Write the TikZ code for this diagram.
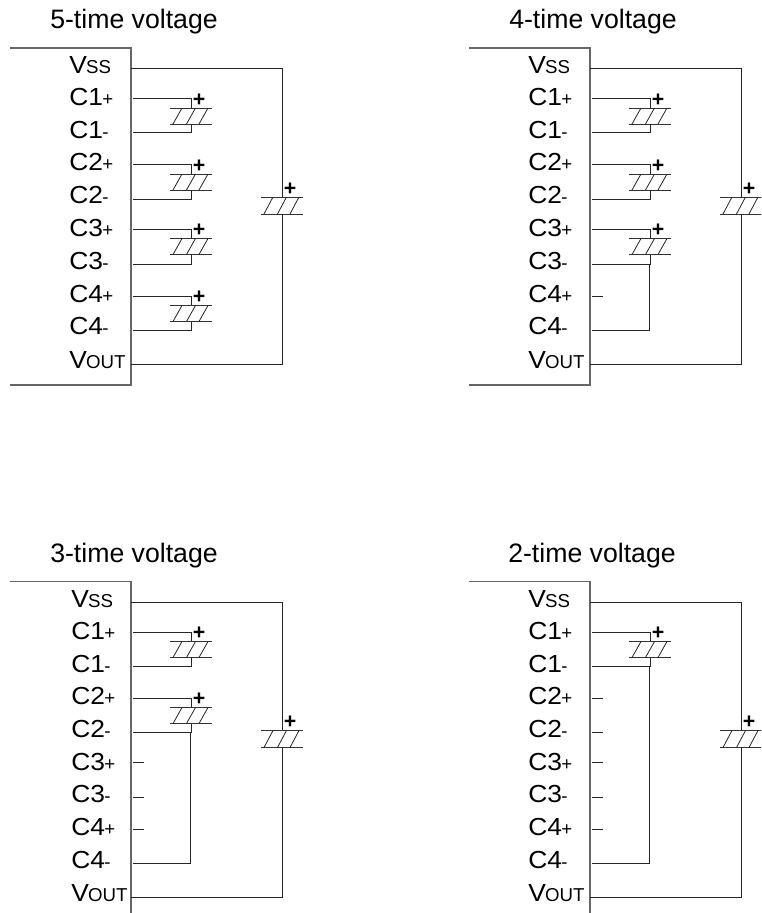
\documentclass[tikz,border=0pt]{standalone}
\usepackage{fontspec}
\setmainfont{Liberation Sans}
\newfontfamily\pinfont[FakeStretch=1.07]{Liberation Sans}
\tikzset{x=0.75pt,y=-0.75pt,
 wire/.style={line width=0.75pt,black!85},
 edge/.style={line width=1pt,black!60},
 plate/.style={line width=0.7pt,black!80},
 hatch/.style={line width=0.6pt,black!85},
 pin/.style={anchor=base west,inner sep=0pt,font=\pinfont\fontsize{18.5}{18.5}\selectfont},
 ttl/.style={anchor=base west,inner sep=0pt,font=\fontsize{20}{20}\selectfont},
 plus/.style={inner sep=0pt,font=\fontsize{16}{16}\selectfont\bfseries}}
\newcommand{\sml}[1]{{\rmfamily\fontsize{14}{14}\selectfont\hspace{-0.5pt}#1}}
\newcommand{\capsym}[4]{%
 \draw[plate] (#1-21,#2) -- (#1+21,#2);
 \draw[plate] (#1-21,#3) -- (#1+21,#3);
 \foreach \d in {-13.5,0,12.5}{\draw[hatch] (#1+\d-4.5,#3) -- (#1+\d+4.5,#2);}
 \node[plus] (#4p) at (#1+8,#2-8) {+};}
\begin{document}
\begin{tikzpicture}
\useasboundingbox (0,0) rectangle (761,913);
\clip (0,0) rectangle (761,913);
\fill[white] (0,0) rectangle (761,913);
\foreach \dx/\dy/\n/\tx/\lx in {0/0/5/50/69,459/0/4/50/69,0/533.5/3/50/71,459/533.5/2/49/69}{
\begin{scope}[shift={(\dx,\dy)}]
 \node[ttl] (title\n) at (\tx,29) {\n-time voltage};
 \draw[edge] (10,48) -- (131,48) -- (131,385) -- (10,385);
 \node[pin] (vss\n) at (\lx,74) {V\sml{SS}};
 \foreach \k/\yp/\ym in {1/106/138.5,2/171/203.5,3/236.5/269,4/302/334.5}{
  \node[pin] (cp\k\n) at (\lx,\yp) {C\k\sml{+}};
  \node[pin] (cm\k\n) at (\lx,\ym) {C\k\sml{-}};
 }
 \node[pin] (vout\n) at (\lx,368) {V\sml{OUT}};
 \coordinate (a\n) at (131,69);
 \coordinate (b\n) at (282,69);
 \coordinate (c\n) at (282,364);
 \coordinate (d\n) at (131,364);
 \coordinate (e\n) at (282,197);
 \coordinate (f\n) at (282,214);
 \draw[wire] (a\n) -- (b\n) -- (e\n);
 \capsym{282}{197}{214}{big\n}
 \draw[wire] (f\n) -- (c\n) -- (d\n);
\end{scope}}
\foreach \dx/\dy/\n/\ncap/\bus in {0/0/5/4/0,459/0/4/3/3,0/533.5/3/2/2,459/533.5/2/1/1}{
\begin{scope}[shift={(\dx,\dy)}]
 \foreach \k/\y/\yl in {1/98.5/133,2/164.5/199,3/229/264,4/296/330}{
  \ifnum\k>\ncap\relax
   \draw[wire] (133,\y) -- (144,\y);
   \ifnum\k<4\relax\draw[wire] (133,\yl) -- (144,\yl);\fi
  \else
   \draw[wire] (133,\y) -- (191,\y) -- (191,\y+9.5);
   \capsym{191}{\y+9.5}{\y+25.5}{c\k\n}
   \draw[wire] (191,\y+25.5) -- (191,\yl) -- (133,\yl);
  \fi
 }
 \ifnum\bus>0\relax
  \foreach \k/\yl in {1/133,2/199,3/264}{
   \ifnum\k=\bus\relax
    \draw[wire] (190,\yl) -- (190,330) -- (133,330);
   \fi}
 \fi
\end{scope}}
\end{tikzpicture}
\end{document}
